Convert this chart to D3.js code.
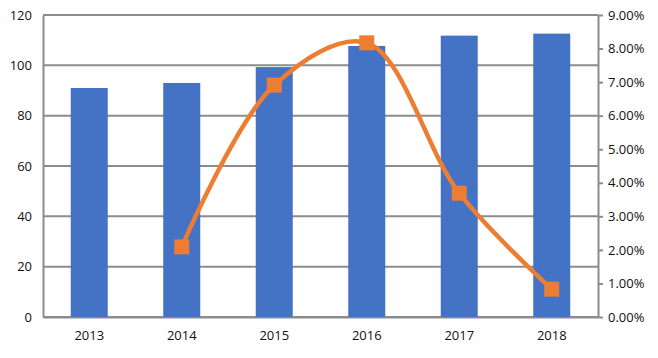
<!DOCTYPE html>
<html>
<head>
<meta charset="utf-8">
<script src="https://cdn.jsdelivr.net/npm/d3@7"></script>
<style>
  body { margin: 0; background: #fff; }
  text { font-family: "Open Sans", "Liberation Sans", sans-serif; font-size: 13px; fill: #111; }
</style>
</head>
<body>
<div id="chart"></div>
<script>
// chart data
const years = ['2013', '2014', '2015', '2016', '2017', '2018'];
const volumes = [91, 93, 99.3, 107.7, 111.8, 112.6];
const growthYears = ['2014', '2015', '2016', '2017', '2018'];
const growth = [0.0209, 0.0691, 0.0817, 0.0369, 0.0083];
const leftTicks = [0, 20, 40, 60, 80, 100, 120];
const rightTicks = [0, 0.01, 0.02, 0.03, 0.04, 0.05, 0.06, 0.07, 0.08, 0.09];

const svgWidth = 658;
const svgHeight = 358;
const margin = { top: 15, right: 60, bottom: 41, left: 43 };
const chartWidth = svgWidth - margin.left - margin.right;
const chartHeight = svgHeight - margin.top - margin.bottom;
const gridColor = '#8c8c8c';

const svg = d3.select('#chart')
    .append('svg')
    .attr('width', svgWidth)
    .attr('height', svgHeight);

const chart = svg.append('g')
    .attr('transform', `translate(${margin.left},${margin.top})`);

const xScale = d3.scaleBand()
    .domain(years)
    .range([0, chartWidth])
    .paddingInner(0.6)
    .paddingOuter(0.3);

const yScale = d3.scaleLinear().domain([0, 120]).range([chartHeight, 0]);
const y2Scale = d3.scaleLinear().domain([0, 0.09]).range([chartHeight, 0]);

// gridlines
chart.append('g')
    .selectAll('line')
    .data(leftTicks)
    .join('line')
    .attr('x1', 0)
    .attr('x2', chartWidth)
    .attr('y1', d => yScale(d))
    .attr('y2', d => yScale(d))
    .attr('stroke', gridColor)
    .attr('stroke-width', 2);

// left axis
const yAxis = chart.append('g')
    .call(d3.axisLeft(yScale).tickValues(leftTicks).tickSize(0).tickPadding(11));
yAxis.select('.domain').attr('stroke', gridColor).attr('stroke-width', 2);

// right axis
const y2Axis = chart.append('g')
    .attr('transform', `translate(${chartWidth},0)`)
    .call(d3.axisRight(y2Scale).tickValues(rightTicks).tickSize(5).tickSizeOuter(0)
        .tickPadding(5).tickFormat(d3.format('.2%')));
y2Axis.select('.domain').attr('stroke', gridColor).attr('stroke-width', 2);
y2Axis.selectAll('.tick line').attr('stroke', gridColor).attr('stroke-width', 2);

// bottom axis
const xAxis = chart.append('g')
    .attr('transform', `translate(0,${chartHeight})`)
    .call(d3.axisBottom(xScale).tickSize(0).tickPadding(14));
xAxis.select('.domain').attr('stroke', gridColor).attr('stroke-width', 2);

// bars
chart.append('g')
    .selectAll('rect')
    .data(volumes)
    .join('rect')
    .attr('x', (d, i) => xScale(years[i]))
    .attr('y', d => yScale(d))
    .attr('width', xScale.bandwidth())
    .attr('height', d => chartHeight - yScale(d))
    .attr('fill', '#4472C4');

// growth line
const pts = growth.map((d, i) => [xScale(growthYears[i]) + xScale.bandwidth() / 2, y2Scale(d)]);
chart.append('path')
    .datum(pts)
    .attr('d', d3.line().curve(d3.curveCatmullRom.alpha(0.5)))
    .attr('fill', 'none')
    .attr('stroke', '#ED7D31')
    .attr('stroke-width', 4.5);

chart.append('g')
    .selectAll('rect')
    .data(pts)
    .join('rect')
    .attr('x', d => d[0] - 7.5)
    .attr('y', d => d[1] - 7.5)
    .attr('width', 15)
    .attr('height', 15)
    .attr('fill', '#ED7D31');
</script>
</body>
</html>
